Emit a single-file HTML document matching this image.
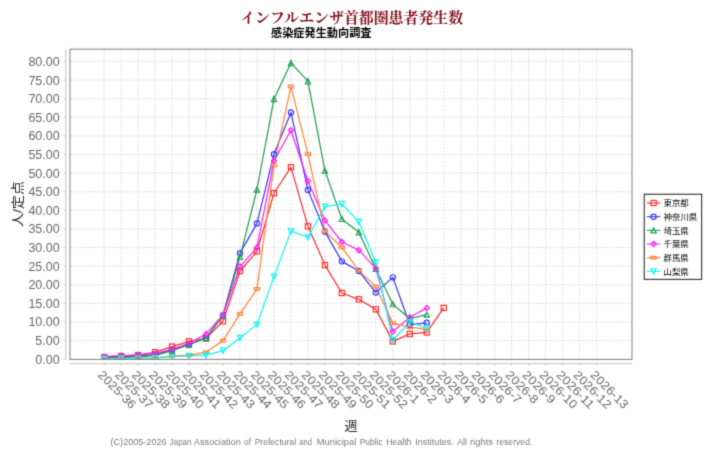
<!DOCTYPE html>
<html><head><meta charset="utf-8"><title>chart</title>
<style>html,body{margin:0;padding:0;background:#fff}</style></head>
<body>
<svg width="709" height="450" viewBox="0 0 709 450" style="display:block;font-family:'Liberation Sans',sans-serif">
<rect width="709" height="450" fill="#fff"/>
<defs><filter id="b" x="0" y="0" width="709" height="450" filterUnits="userSpaceOnUse" color-interpolation-filters="sRGB"><feConvolveMatrix order="3" kernelMatrix="0.0225 0.1050 0.0225 0.1050 0.4900 0.1050 0.0225 0.1050 0.0225" divisor="1" edgeMode="duplicate" preserveAlpha="false"/></filter></defs><g filter="url(#b)">
<path d="M104.15 49.2V359.4M121.13 49.2V359.4M138.11 49.2V359.4M155.09 49.2V359.4M172.07 49.2V359.4M189.05 49.2V359.4M206.03 49.2V359.4M223.01 49.2V359.4M239.99 49.2V359.4M256.97 49.2V359.4M273.95 49.2V359.4M290.93 49.2V359.4M307.91 49.2V359.4M324.89 49.2V359.4M341.87 49.2V359.4M358.85 49.2V359.4M375.83 49.2V359.4M392.81 49.2V359.4M409.79 49.2V359.4M426.77 49.2V359.4M443.75 49.2V359.4M460.73 49.2V359.4M477.71 49.2V359.4M494.69 49.2V359.4M511.67 49.2V359.4M528.65 49.2V359.4M545.63 49.2V359.4M562.61 49.2V359.4M579.59 49.2V359.4M596.57 49.2V359.4M70.0 359.25H632.0M70.0 340.64H632.0M70.0 322.02H632.0M70.0 303.41H632.0M70.0 284.80H632.0M70.0 266.19H632.0M70.0 247.57H632.0M70.0 228.96H632.0M70.0 210.35H632.0M70.0 191.74H632.0M70.0 173.12H632.0M70.0 154.51H632.0M70.0 135.90H632.0M70.0 117.29H632.0M70.0 98.68H632.0M70.0 80.06H632.0M70.0 61.45H632.0" fill="none" stroke="#c6c6c6" stroke-width="0.62" stroke-dasharray="1.75 1.75"/>
<path d="M65.8 49.2V359.4M70.0 363.6H632.0M63.90 359.25H65.8M63.90 340.64H65.8M63.90 322.02H65.8M63.90 303.41H65.8M63.90 284.80H65.8M63.90 266.19H65.8M63.90 247.57H65.8M63.90 228.96H65.8M63.90 210.35H65.8M63.90 191.74H65.8M63.90 173.12H65.8M63.90 154.51H65.8M63.90 135.90H65.8M63.90 117.29H65.8M63.90 98.68H65.8M63.90 80.06H65.8M63.90 61.45H65.8M104.15 363.6V365.50M121.13 363.6V365.50M138.11 363.6V365.50M155.09 363.6V365.50M172.07 363.6V365.50M189.05 363.6V365.50M206.03 363.6V365.50M223.01 363.6V365.50M239.99 363.6V365.50M256.97 363.6V365.50M273.95 363.6V365.50M290.93 363.6V365.50M307.91 363.6V365.50M324.89 363.6V365.50M341.87 363.6V365.50M358.85 363.6V365.50M375.83 363.6V365.50M392.81 363.6V365.50M409.79 363.6V365.50M426.77 363.6V365.50M443.75 363.6V365.50M460.73 363.6V365.50M477.71 363.6V365.50M494.69 363.6V365.50M511.67 363.6V365.50M528.65 363.6V365.50M545.63 363.6V365.50M562.61 363.6V365.50M579.59 363.6V365.50M596.57 363.6V365.50" fill="none" stroke="#bdbdbd" stroke-width="0.9"/>
<clipPath id="c"><rect x="70.0" y="49.2" width="562.00" height="310.50"/></clipPath><g clip-path="url(#c)">
<polyline points="104.15,357.24 121.13,356.16 138.11,355.16 155.09,352.18 172.07,346.59 189.05,341.38 206.03,338.40 223.01,321.28 239.99,271.03 256.97,251.30 273.95,193.23 290.93,167.17 307.91,226.36 324.89,265.07 341.87,292.99 358.85,299.32 375.83,309.37 392.81,341.38 409.79,333.94 426.77,332.45 443.75,307.88" fill="none" stroke="#ff3030" stroke-width="1.25" stroke-linejoin="round"/>
<polyline points="104.15,357.57 121.13,356.83 138.11,356.09 155.09,354.41 172.07,349.94 189.05,344.36 206.03,338.03 223.01,315.14 239.99,253.16 256.97,223.38 273.95,154.14 290.93,112.45 307.91,189.88 324.89,231.57 341.87,261.35 358.85,271.03 375.83,292.62 392.81,277.36 409.79,324.63 426.77,322.77" fill="none" stroke="#3a3aff" stroke-width="1.25" stroke-linejoin="round"/>
<polyline points="104.15,358.13 121.13,357.39 138.11,356.64 155.09,355.53 172.07,350.69 189.05,344.73 206.03,338.03 223.01,315.70 239.99,256.88 256.97,189.50 273.95,99.05 290.93,62.94 307.91,81.18 324.89,170.52 341.87,218.91 358.85,232.31 375.83,268.79 392.81,304.16 409.79,318.67 426.77,314.58" fill="none" stroke="#23a050" stroke-width="1.25" stroke-linejoin="round"/>
<polyline points="104.15,356.46 121.13,355.53 138.11,354.97 155.09,353.67 172.07,349.20 189.05,343.24 206.03,333.94 223.01,314.95 239.99,266.56 256.97,247.57 273.95,160.84 290.93,130.32 307.91,180.94 324.89,220.40 341.87,241.99 358.85,250.18 375.83,268.42 392.81,331.52 409.79,317.19 426.77,307.88" fill="none" stroke="#ff21ff" stroke-width="1.25" stroke-linejoin="round"/>
<polyline points="104.15,358.51 121.13,358.51 138.11,358.13 155.09,357.76 172.07,355.90 189.05,355.16 206.03,352.18 223.01,340.64 239.99,313.84 256.97,288.89 273.95,165.31 290.93,86.39 307.91,154.14 324.89,231.20 341.87,247.57 358.85,270.65 375.83,286.66 392.81,323.14 409.79,327.24 426.77,329.47" fill="none" stroke="#ff843d" stroke-width="1.25" stroke-linejoin="round"/>
<polyline points="104.15,358.88 121.13,358.51 138.11,358.51 155.09,358.13 172.07,356.64 189.05,355.90 206.03,355.16 223.01,350.69 239.99,338.03 256.97,324.63 273.95,276.61 290.93,231.20 307.91,237.52 324.89,206.63 341.87,204.02 358.85,221.89 375.83,262.47 392.81,340.27 409.79,321.84 426.77,328.54" fill="none" stroke="#14f4f4" stroke-width="1.25" stroke-linejoin="round"/>
<rect x="101.55" y="354.64" width="5.20" height="5.20" fill="none" stroke="#ff3030" stroke-width="1.2"/>
<rect x="118.53" y="353.56" width="5.20" height="5.20" fill="none" stroke="#ff3030" stroke-width="1.2"/>
<rect x="135.51" y="352.56" width="5.20" height="5.20" fill="none" stroke="#ff3030" stroke-width="1.2"/>
<rect x="152.49" y="349.58" width="5.20" height="5.20" fill="none" stroke="#ff3030" stroke-width="1.2"/>
<rect x="169.47" y="343.99" width="5.20" height="5.20" fill="none" stroke="#ff3030" stroke-width="1.2"/>
<rect x="186.45" y="338.78" width="5.20" height="5.20" fill="none" stroke="#ff3030" stroke-width="1.2"/>
<rect x="203.43" y="335.80" width="5.20" height="5.20" fill="none" stroke="#ff3030" stroke-width="1.2"/>
<rect x="220.41" y="318.68" width="5.20" height="5.20" fill="none" stroke="#ff3030" stroke-width="1.2"/>
<rect x="237.39" y="268.43" width="5.20" height="5.20" fill="none" stroke="#ff3030" stroke-width="1.2"/>
<rect x="254.37" y="248.70" width="5.20" height="5.20" fill="none" stroke="#ff3030" stroke-width="1.2"/>
<rect x="271.35" y="190.63" width="5.20" height="5.20" fill="none" stroke="#ff3030" stroke-width="1.2"/>
<rect x="288.33" y="164.57" width="5.20" height="5.20" fill="none" stroke="#ff3030" stroke-width="1.2"/>
<rect x="305.31" y="223.76" width="5.20" height="5.20" fill="none" stroke="#ff3030" stroke-width="1.2"/>
<rect x="322.29" y="262.47" width="5.20" height="5.20" fill="none" stroke="#ff3030" stroke-width="1.2"/>
<rect x="339.27" y="290.39" width="5.20" height="5.20" fill="none" stroke="#ff3030" stroke-width="1.2"/>
<rect x="356.25" y="296.72" width="5.20" height="5.20" fill="none" stroke="#ff3030" stroke-width="1.2"/>
<rect x="373.23" y="306.77" width="5.20" height="5.20" fill="none" stroke="#ff3030" stroke-width="1.2"/>
<rect x="390.21" y="338.78" width="5.20" height="5.20" fill="none" stroke="#ff3030" stroke-width="1.2"/>
<rect x="407.19" y="331.34" width="5.20" height="5.20" fill="none" stroke="#ff3030" stroke-width="1.2"/>
<rect x="424.17" y="329.85" width="5.20" height="5.20" fill="none" stroke="#ff3030" stroke-width="1.2"/>
<rect x="441.15" y="305.28" width="5.20" height="5.20" fill="none" stroke="#ff3030" stroke-width="1.2"/>
<circle cx="104.15" cy="357.57" r="2.60" fill="none" stroke="#3a3aff" stroke-width="1.2"/>
<circle cx="121.13" cy="356.83" r="2.60" fill="none" stroke="#3a3aff" stroke-width="1.2"/>
<circle cx="138.11" cy="356.09" r="2.60" fill="none" stroke="#3a3aff" stroke-width="1.2"/>
<circle cx="155.09" cy="354.41" r="2.60" fill="none" stroke="#3a3aff" stroke-width="1.2"/>
<circle cx="172.07" cy="349.94" r="2.60" fill="none" stroke="#3a3aff" stroke-width="1.2"/>
<circle cx="189.05" cy="344.36" r="2.60" fill="none" stroke="#3a3aff" stroke-width="1.2"/>
<circle cx="206.03" cy="338.03" r="2.60" fill="none" stroke="#3a3aff" stroke-width="1.2"/>
<circle cx="223.01" cy="315.14" r="2.60" fill="none" stroke="#3a3aff" stroke-width="1.2"/>
<circle cx="239.99" cy="253.16" r="2.60" fill="none" stroke="#3a3aff" stroke-width="1.2"/>
<circle cx="256.97" cy="223.38" r="2.60" fill="none" stroke="#3a3aff" stroke-width="1.2"/>
<circle cx="273.95" cy="154.14" r="2.60" fill="none" stroke="#3a3aff" stroke-width="1.2"/>
<circle cx="290.93" cy="112.45" r="2.60" fill="none" stroke="#3a3aff" stroke-width="1.2"/>
<circle cx="307.91" cy="189.88" r="2.60" fill="none" stroke="#3a3aff" stroke-width="1.2"/>
<circle cx="324.89" cy="231.57" r="2.60" fill="none" stroke="#3a3aff" stroke-width="1.2"/>
<circle cx="341.87" cy="261.35" r="2.60" fill="none" stroke="#3a3aff" stroke-width="1.2"/>
<circle cx="358.85" cy="271.03" r="2.60" fill="none" stroke="#3a3aff" stroke-width="1.2"/>
<circle cx="375.83" cy="292.62" r="2.60" fill="none" stroke="#3a3aff" stroke-width="1.2"/>
<circle cx="392.81" cy="277.36" r="2.60" fill="none" stroke="#3a3aff" stroke-width="1.2"/>
<circle cx="409.79" cy="324.63" r="2.60" fill="none" stroke="#3a3aff" stroke-width="1.2"/>
<circle cx="426.77" cy="322.77" r="2.60" fill="none" stroke="#3a3aff" stroke-width="1.2"/>
<path d="M104.15 355.53L106.75 360.73L101.55 360.73Z" fill="none" stroke="#23a050" stroke-width="1.2"/>
<path d="M121.13 354.79L123.73 359.99L118.53 359.99Z" fill="none" stroke="#23a050" stroke-width="1.2"/>
<path d="M138.11 354.04L140.71 359.24L135.51 359.24Z" fill="none" stroke="#23a050" stroke-width="1.2"/>
<path d="M155.09 352.93L157.69 358.13L152.49 358.13Z" fill="none" stroke="#23a050" stroke-width="1.2"/>
<path d="M172.07 348.09L174.67 353.29L169.47 353.29Z" fill="none" stroke="#23a050" stroke-width="1.2"/>
<path d="M189.05 342.13L191.65 347.33L186.45 347.33Z" fill="none" stroke="#23a050" stroke-width="1.2"/>
<path d="M206.03 335.43L208.63 340.63L203.43 340.63Z" fill="none" stroke="#23a050" stroke-width="1.2"/>
<path d="M223.01 313.10L225.61 318.30L220.41 318.30Z" fill="none" stroke="#23a050" stroke-width="1.2"/>
<path d="M239.99 254.28L242.59 259.48L237.39 259.48Z" fill="none" stroke="#23a050" stroke-width="1.2"/>
<path d="M256.97 186.90L259.57 192.10L254.37 192.10Z" fill="none" stroke="#23a050" stroke-width="1.2"/>
<path d="M273.95 96.45L276.55 101.65L271.35 101.65Z" fill="none" stroke="#23a050" stroke-width="1.2"/>
<path d="M290.93 60.34L293.53 65.54L288.33 65.54Z" fill="none" stroke="#23a050" stroke-width="1.2"/>
<path d="M307.91 78.58L310.51 83.78L305.31 83.78Z" fill="none" stroke="#23a050" stroke-width="1.2"/>
<path d="M324.89 167.92L327.49 173.12L322.29 173.12Z" fill="none" stroke="#23a050" stroke-width="1.2"/>
<path d="M341.87 216.31L344.47 221.51L339.27 221.51Z" fill="none" stroke="#23a050" stroke-width="1.2"/>
<path d="M358.85 229.71L361.45 234.91L356.25 234.91Z" fill="none" stroke="#23a050" stroke-width="1.2"/>
<path d="M375.83 266.19L378.43 271.39L373.23 271.39Z" fill="none" stroke="#23a050" stroke-width="1.2"/>
<path d="M392.81 301.56L395.41 306.76L390.21 306.76Z" fill="none" stroke="#23a050" stroke-width="1.2"/>
<path d="M409.79 316.07L412.39 321.27L407.19 321.27Z" fill="none" stroke="#23a050" stroke-width="1.2"/>
<path d="M426.77 311.98L429.37 317.18L424.17 317.18Z" fill="none" stroke="#23a050" stroke-width="1.2"/>
<path d="M104.15 353.86L106.75 356.46L104.15 359.06L101.55 356.46Z" fill="none" stroke="#ff21ff" stroke-width="1.2"/>
<path d="M121.13 352.93L123.73 355.53L121.13 358.13L118.53 355.53Z" fill="none" stroke="#ff21ff" stroke-width="1.2"/>
<path d="M138.11 352.37L140.71 354.97L138.11 357.57L135.51 354.97Z" fill="none" stroke="#ff21ff" stroke-width="1.2"/>
<path d="M155.09 351.07L157.69 353.67L155.09 356.27L152.49 353.67Z" fill="none" stroke="#ff21ff" stroke-width="1.2"/>
<path d="M172.07 346.60L174.67 349.20L172.07 351.80L169.47 349.20Z" fill="none" stroke="#ff21ff" stroke-width="1.2"/>
<path d="M189.05 340.64L191.65 343.24L189.05 345.84L186.45 343.24Z" fill="none" stroke="#ff21ff" stroke-width="1.2"/>
<path d="M206.03 331.34L208.63 333.94L206.03 336.54L203.43 333.94Z" fill="none" stroke="#ff21ff" stroke-width="1.2"/>
<path d="M223.01 312.35L225.61 314.95L223.01 317.55L220.41 314.95Z" fill="none" stroke="#ff21ff" stroke-width="1.2"/>
<path d="M239.99 263.96L242.59 266.56L239.99 269.16L237.39 266.56Z" fill="none" stroke="#ff21ff" stroke-width="1.2"/>
<path d="M256.97 244.97L259.57 247.57L256.97 250.17L254.37 247.57Z" fill="none" stroke="#ff21ff" stroke-width="1.2"/>
<path d="M273.95 158.24L276.55 160.84L273.95 163.44L271.35 160.84Z" fill="none" stroke="#ff21ff" stroke-width="1.2"/>
<path d="M290.93 127.72L293.53 130.32L290.93 132.92L288.33 130.32Z" fill="none" stroke="#ff21ff" stroke-width="1.2"/>
<path d="M307.91 178.34L310.51 180.94L307.91 183.54L305.31 180.94Z" fill="none" stroke="#ff21ff" stroke-width="1.2"/>
<path d="M324.89 217.80L327.49 220.40L324.89 223.00L322.29 220.40Z" fill="none" stroke="#ff21ff" stroke-width="1.2"/>
<path d="M341.87 239.39L344.47 241.99L341.87 244.59L339.27 241.99Z" fill="none" stroke="#ff21ff" stroke-width="1.2"/>
<path d="M358.85 247.58L361.45 250.18L358.85 252.78L356.25 250.18Z" fill="none" stroke="#ff21ff" stroke-width="1.2"/>
<path d="M375.83 265.82L378.43 268.42L375.83 271.02L373.23 268.42Z" fill="none" stroke="#ff21ff" stroke-width="1.2"/>
<path d="M392.81 328.92L395.41 331.52L392.81 334.12L390.21 331.52Z" fill="none" stroke="#ff21ff" stroke-width="1.2"/>
<path d="M409.79 314.59L412.39 317.19L409.79 319.79L407.19 317.19Z" fill="none" stroke="#ff21ff" stroke-width="1.2"/>
<path d="M426.77 305.28L429.37 307.88L426.77 310.48L424.17 307.88Z" fill="none" stroke="#ff21ff" stroke-width="1.2"/>
<rect x="101.55" y="357.21" width="5.20" height="2.60" fill="none" stroke="#ff843d" stroke-width="1.2"/>
<rect x="118.53" y="357.21" width="5.20" height="2.60" fill="none" stroke="#ff843d" stroke-width="1.2"/>
<rect x="135.51" y="356.83" width="5.20" height="2.60" fill="none" stroke="#ff843d" stroke-width="1.2"/>
<rect x="152.49" y="356.46" width="5.20" height="2.60" fill="none" stroke="#ff843d" stroke-width="1.2"/>
<rect x="169.47" y="354.60" width="5.20" height="2.60" fill="none" stroke="#ff843d" stroke-width="1.2"/>
<rect x="186.45" y="353.86" width="5.20" height="2.60" fill="none" stroke="#ff843d" stroke-width="1.2"/>
<rect x="203.43" y="350.88" width="5.20" height="2.60" fill="none" stroke="#ff843d" stroke-width="1.2"/>
<rect x="220.41" y="339.34" width="5.20" height="2.60" fill="none" stroke="#ff843d" stroke-width="1.2"/>
<rect x="237.39" y="312.54" width="5.20" height="2.60" fill="none" stroke="#ff843d" stroke-width="1.2"/>
<rect x="254.37" y="287.59" width="5.20" height="2.60" fill="none" stroke="#ff843d" stroke-width="1.2"/>
<rect x="271.35" y="164.01" width="5.20" height="2.60" fill="none" stroke="#ff843d" stroke-width="1.2"/>
<rect x="288.33" y="85.09" width="5.20" height="2.60" fill="none" stroke="#ff843d" stroke-width="1.2"/>
<rect x="305.31" y="152.84" width="5.20" height="2.60" fill="none" stroke="#ff843d" stroke-width="1.2"/>
<rect x="322.29" y="229.90" width="5.20" height="2.60" fill="none" stroke="#ff843d" stroke-width="1.2"/>
<rect x="339.27" y="246.27" width="5.20" height="2.60" fill="none" stroke="#ff843d" stroke-width="1.2"/>
<rect x="356.25" y="269.35" width="5.20" height="2.60" fill="none" stroke="#ff843d" stroke-width="1.2"/>
<rect x="373.23" y="285.36" width="5.20" height="2.60" fill="none" stroke="#ff843d" stroke-width="1.2"/>
<rect x="390.21" y="321.84" width="5.20" height="2.60" fill="none" stroke="#ff843d" stroke-width="1.2"/>
<rect x="407.19" y="325.94" width="5.20" height="2.60" fill="none" stroke="#ff843d" stroke-width="1.2"/>
<rect x="424.17" y="328.17" width="5.20" height="2.60" fill="none" stroke="#ff843d" stroke-width="1.2"/>
<path d="M101.55 356.28L106.75 356.28L104.15 361.48Z" fill="none" stroke="#14f4f4" stroke-width="1.2"/>
<path d="M118.53 355.91L123.73 355.91L121.13 361.11Z" fill="none" stroke="#14f4f4" stroke-width="1.2"/>
<path d="M135.51 355.91L140.71 355.91L138.11 361.11Z" fill="none" stroke="#14f4f4" stroke-width="1.2"/>
<path d="M152.49 355.53L157.69 355.53L155.09 360.73Z" fill="none" stroke="#14f4f4" stroke-width="1.2"/>
<path d="M169.47 354.04L174.67 354.04L172.07 359.24Z" fill="none" stroke="#14f4f4" stroke-width="1.2"/>
<path d="M186.45 353.30L191.65 353.30L189.05 358.50Z" fill="none" stroke="#14f4f4" stroke-width="1.2"/>
<path d="M203.43 352.56L208.63 352.56L206.03 357.76Z" fill="none" stroke="#14f4f4" stroke-width="1.2"/>
<path d="M220.41 348.09L225.61 348.09L223.01 353.29Z" fill="none" stroke="#14f4f4" stroke-width="1.2"/>
<path d="M237.39 335.43L242.59 335.43L239.99 340.63Z" fill="none" stroke="#14f4f4" stroke-width="1.2"/>
<path d="M254.37 322.03L259.57 322.03L256.97 327.23Z" fill="none" stroke="#14f4f4" stroke-width="1.2"/>
<path d="M271.35 274.01L276.55 274.01L273.95 279.21Z" fill="none" stroke="#14f4f4" stroke-width="1.2"/>
<path d="M288.33 228.60L293.53 228.60L290.93 233.80Z" fill="none" stroke="#14f4f4" stroke-width="1.2"/>
<path d="M305.31 234.92L310.51 234.92L307.91 240.12Z" fill="none" stroke="#14f4f4" stroke-width="1.2"/>
<path d="M322.29 204.03L327.49 204.03L324.89 209.23Z" fill="none" stroke="#14f4f4" stroke-width="1.2"/>
<path d="M339.27 201.42L344.47 201.42L341.87 206.62Z" fill="none" stroke="#14f4f4" stroke-width="1.2"/>
<path d="M356.25 219.29L361.45 219.29L358.85 224.49Z" fill="none" stroke="#14f4f4" stroke-width="1.2"/>
<path d="M373.23 259.87L378.43 259.87L375.83 265.07Z" fill="none" stroke="#14f4f4" stroke-width="1.2"/>
<path d="M390.21 337.67L395.41 337.67L392.81 342.87Z" fill="none" stroke="#14f4f4" stroke-width="1.2"/>
<path d="M407.19 319.24L412.39 319.24L409.79 324.44Z" fill="none" stroke="#14f4f4" stroke-width="1.2"/>
<path d="M424.17 325.94L429.37 325.94L426.77 331.14Z" fill="none" stroke="#14f4f4" stroke-width="1.2"/>
</g>
<rect x="70.0" y="49.2" width="562.00" height="310.20" fill="none" stroke="#808080" stroke-width="1"/>
<text x="59.7" y="363.70" font-size="11.9" fill="#686868" text-anchor="end" textLength="24.35" lengthAdjust="spacingAndGlyphs">0.00</text>
<text x="59.7" y="345.09" font-size="11.9" fill="#686868" text-anchor="end" textLength="24.35" lengthAdjust="spacingAndGlyphs">5.00</text>
<text x="59.7" y="326.47" font-size="11.9" fill="#686868" text-anchor="end" textLength="31.3" lengthAdjust="spacingAndGlyphs">10.00</text>
<text x="59.7" y="307.86" font-size="11.9" fill="#686868" text-anchor="end" textLength="31.3" lengthAdjust="spacingAndGlyphs">15.00</text>
<text x="59.7" y="289.25" font-size="11.9" fill="#686868" text-anchor="end" textLength="31.3" lengthAdjust="spacingAndGlyphs">20.00</text>
<text x="59.7" y="270.64" font-size="11.9" fill="#686868" text-anchor="end" textLength="31.3" lengthAdjust="spacingAndGlyphs">25.00</text>
<text x="59.7" y="252.02" font-size="11.9" fill="#686868" text-anchor="end" textLength="31.3" lengthAdjust="spacingAndGlyphs">30.00</text>
<text x="59.7" y="233.41" font-size="11.9" fill="#686868" text-anchor="end" textLength="31.3" lengthAdjust="spacingAndGlyphs">35.00</text>
<text x="59.7" y="214.80" font-size="11.9" fill="#686868" text-anchor="end" textLength="31.3" lengthAdjust="spacingAndGlyphs">40.00</text>
<text x="59.7" y="196.19" font-size="11.9" fill="#686868" text-anchor="end" textLength="31.3" lengthAdjust="spacingAndGlyphs">45.00</text>
<text x="59.7" y="177.57" font-size="11.9" fill="#686868" text-anchor="end" textLength="31.3" lengthAdjust="spacingAndGlyphs">50.00</text>
<text x="59.7" y="158.96" font-size="11.9" fill="#686868" text-anchor="end" textLength="31.3" lengthAdjust="spacingAndGlyphs">55.00</text>
<text x="59.7" y="140.35" font-size="11.9" fill="#686868" text-anchor="end" textLength="31.3" lengthAdjust="spacingAndGlyphs">60.00</text>
<text x="59.7" y="121.74" font-size="11.9" fill="#686868" text-anchor="end" textLength="31.3" lengthAdjust="spacingAndGlyphs">65.00</text>
<text x="59.7" y="103.13" font-size="11.9" fill="#686868" text-anchor="end" textLength="31.3" lengthAdjust="spacingAndGlyphs">70.00</text>
<text x="59.7" y="84.51" font-size="11.9" fill="#686868" text-anchor="end" textLength="31.3" lengthAdjust="spacingAndGlyphs">75.00</text>
<text x="59.7" y="65.90" font-size="11.9" fill="#686868" text-anchor="end" textLength="31.3" lengthAdjust="spacingAndGlyphs">80.00</text>
<text transform="translate(103.85 369.1) rotate(45)" x="0" y="9.2" font-size="11.9" fill="#686868" textLength="47.8" lengthAdjust="spacingAndGlyphs">2025-36</text>
<text transform="translate(120.83 369.1) rotate(45)" x="0" y="9.2" font-size="11.9" fill="#686868" textLength="47.8" lengthAdjust="spacingAndGlyphs">2025-37</text>
<text transform="translate(137.81 369.1) rotate(45)" x="0" y="9.2" font-size="11.9" fill="#686868" textLength="47.8" lengthAdjust="spacingAndGlyphs">2025-38</text>
<text transform="translate(154.79 369.1) rotate(45)" x="0" y="9.2" font-size="11.9" fill="#686868" textLength="47.8" lengthAdjust="spacingAndGlyphs">2025-39</text>
<text transform="translate(171.77 369.1) rotate(45)" x="0" y="9.2" font-size="11.9" fill="#686868" textLength="47.8" lengthAdjust="spacingAndGlyphs">2025-40</text>
<text transform="translate(188.75 369.1) rotate(45)" x="0" y="9.2" font-size="11.9" fill="#686868" textLength="47.8" lengthAdjust="spacingAndGlyphs">2025-41</text>
<text transform="translate(205.73 369.1) rotate(45)" x="0" y="9.2" font-size="11.9" fill="#686868" textLength="47.8" lengthAdjust="spacingAndGlyphs">2025-42</text>
<text transform="translate(222.71 369.1) rotate(45)" x="0" y="9.2" font-size="11.9" fill="#686868" textLength="47.8" lengthAdjust="spacingAndGlyphs">2025-43</text>
<text transform="translate(239.69 369.1) rotate(45)" x="0" y="9.2" font-size="11.9" fill="#686868" textLength="47.8" lengthAdjust="spacingAndGlyphs">2025-44</text>
<text transform="translate(256.67 369.1) rotate(45)" x="0" y="9.2" font-size="11.9" fill="#686868" textLength="47.8" lengthAdjust="spacingAndGlyphs">2025-45</text>
<text transform="translate(273.65 369.1) rotate(45)" x="0" y="9.2" font-size="11.9" fill="#686868" textLength="47.8" lengthAdjust="spacingAndGlyphs">2025-46</text>
<text transform="translate(290.63 369.1) rotate(45)" x="0" y="9.2" font-size="11.9" fill="#686868" textLength="47.8" lengthAdjust="spacingAndGlyphs">2025-47</text>
<text transform="translate(307.61 369.1) rotate(45)" x="0" y="9.2" font-size="11.9" fill="#686868" textLength="47.8" lengthAdjust="spacingAndGlyphs">2025-48</text>
<text transform="translate(324.59 369.1) rotate(45)" x="0" y="9.2" font-size="11.9" fill="#686868" textLength="47.8" lengthAdjust="spacingAndGlyphs">2025-49</text>
<text transform="translate(341.57 369.1) rotate(45)" x="0" y="9.2" font-size="11.9" fill="#686868" textLength="47.8" lengthAdjust="spacingAndGlyphs">2025-50</text>
<text transform="translate(358.55 369.1) rotate(45)" x="0" y="9.2" font-size="11.9" fill="#686868" textLength="47.8" lengthAdjust="spacingAndGlyphs">2025-51</text>
<text transform="translate(375.53 369.1) rotate(45)" x="0" y="9.2" font-size="11.9" fill="#686868" textLength="47.8" lengthAdjust="spacingAndGlyphs">2025-52</text>
<text transform="translate(392.51 369.1) rotate(45)" x="0" y="9.2" font-size="11.9" fill="#686868" textLength="40.839999999999996" lengthAdjust="spacingAndGlyphs">2026-1</text>
<text transform="translate(409.49 369.1) rotate(45)" x="0" y="9.2" font-size="11.9" fill="#686868" textLength="40.839999999999996" lengthAdjust="spacingAndGlyphs">2026-2</text>
<text transform="translate(426.47 369.1) rotate(45)" x="0" y="9.2" font-size="11.9" fill="#686868" textLength="40.839999999999996" lengthAdjust="spacingAndGlyphs">2026-3</text>
<text transform="translate(443.45 369.1) rotate(45)" x="0" y="9.2" font-size="11.9" fill="#686868" textLength="40.839999999999996" lengthAdjust="spacingAndGlyphs">2026-4</text>
<text transform="translate(460.43 369.1) rotate(45)" x="0" y="9.2" font-size="11.9" fill="#686868" textLength="40.839999999999996" lengthAdjust="spacingAndGlyphs">2026-5</text>
<text transform="translate(477.41 369.1) rotate(45)" x="0" y="9.2" font-size="11.9" fill="#686868" textLength="40.839999999999996" lengthAdjust="spacingAndGlyphs">2026-6</text>
<text transform="translate(494.39 369.1) rotate(45)" x="0" y="9.2" font-size="11.9" fill="#686868" textLength="40.839999999999996" lengthAdjust="spacingAndGlyphs">2026-7</text>
<text transform="translate(511.37 369.1) rotate(45)" x="0" y="9.2" font-size="11.9" fill="#686868" textLength="40.839999999999996" lengthAdjust="spacingAndGlyphs">2026-8</text>
<text transform="translate(528.35 369.1) rotate(45)" x="0" y="9.2" font-size="11.9" fill="#686868" textLength="40.839999999999996" lengthAdjust="spacingAndGlyphs">2026-9</text>
<text transform="translate(545.33 369.1) rotate(45)" x="0" y="9.2" font-size="11.9" fill="#686868" textLength="47.8" lengthAdjust="spacingAndGlyphs">2026-10</text>
<text transform="translate(562.31 369.1) rotate(45)" x="0" y="9.2" font-size="11.9" fill="#686868" textLength="47.8" lengthAdjust="spacingAndGlyphs">2026-11</text>
<text transform="translate(579.29 369.1) rotate(45)" x="0" y="9.2" font-size="11.9" fill="#686868" textLength="47.8" lengthAdjust="spacingAndGlyphs">2026-12</text>
<text transform="translate(596.27 369.1) rotate(45)" x="0" y="9.2" font-size="11.9" fill="#686868" textLength="47.8" lengthAdjust="spacingAndGlyphs">2026-13</text>
<text x="240.15" y="23.1" font-size="14.8" font-weight="bold" fill="#800c14" textLength="223" lengthAdjust="spacingAndGlyphs" style="font-family:'Liberation Serif','Noto Serif CJK SC','Noto Sans CJK JP',serif">インフルエンザ首都圏患者発生数</text>
<text x="271.0" y="37.2" font-size="11.2" font-weight="bold" fill="#000" textLength="100.5" lengthAdjust="spacingAndGlyphs" style="font-family:'Liberation Sans','Noto Sans CJK JP',sans-serif">感染症発生動向調査</text>
<text transform="translate(21.7 227.08) rotate(-90)" x="0" y="0" font-size="13" fill="#2a2a2a" textLength="46" lengthAdjust="spacingAndGlyphs" style="font-family:'Liberation Sans','Noto Sans CJK JP',sans-serif">人/定点</text>
<text x="344.45" y="429.5" font-size="13" fill="#2a2a2a" style="font-family:'Liberation Sans','Noto Sans CJK JP',sans-serif">週</text>
<g font-size="8.9" fill="#7a7a7a"><text x="110.55" y="445.35" textLength="56.00" lengthAdjust="spacingAndGlyphs">(C)2005-2026</text><text x="169.85" y="445.35" textLength="21.50" lengthAdjust="spacingAndGlyphs">Japan</text><text x="193.85" y="445.35" textLength="47.00" lengthAdjust="spacingAndGlyphs">Association</text><text x="244.05" y="445.35" textLength="6.90" lengthAdjust="spacingAndGlyphs">of</text><text x="254.65" y="445.35" textLength="41.40" lengthAdjust="spacingAndGlyphs">Prefectural</text><text x="299.35" y="445.35" textLength="12.50" lengthAdjust="spacingAndGlyphs">and</text><text x="316.65" y="445.35" textLength="39.70" lengthAdjust="spacingAndGlyphs">Municipal</text><text x="359.65" y="445.35" textLength="23.10" lengthAdjust="spacingAndGlyphs">Public</text><text x="386.35" y="445.35" textLength="25.10" lengthAdjust="spacingAndGlyphs">Health</text><text x="415.15" y="445.35" textLength="38.50" lengthAdjust="spacingAndGlyphs">Institutes.</text><text x="457.25" y="445.35" textLength="9.60" lengthAdjust="spacingAndGlyphs">All</text><text x="469.95" y="445.35" textLength="23.10" lengthAdjust="spacingAndGlyphs">rights</text><text x="496.35" y="445.35" textLength="36.00" lengthAdjust="spacingAndGlyphs">reserved.</text></g>
<rect x="644.2" y="194.2" width="57.50" height="85.10" fill="#fff" stroke="#000" stroke-width="0.9"/>
<path d="M646.9 203.00H660.3" stroke="#ff3030" stroke-width="1.1"/>
<rect x="651.00" y="200.40" width="5.20" height="5.20" fill="none" stroke="#ff3030" stroke-width="1.2"/>
<text x="663.5" y="206.30" font-size="8.5" fill="#000" textLength="25.3" lengthAdjust="spacingAndGlyphs" style="font-family:'Liberation Sans','Noto Sans CJK JP',sans-serif">東京都</text>
<path d="M646.9 216.68H660.3" stroke="#3a3aff" stroke-width="1.1"/>
<circle cx="653.60" cy="216.68" r="2.60" fill="none" stroke="#3a3aff" stroke-width="1.2"/>
<text x="663.5" y="219.98" font-size="8.5" fill="#000" textLength="33.8" lengthAdjust="spacingAndGlyphs" style="font-family:'Liberation Sans','Noto Sans CJK JP',sans-serif">神奈川県</text>
<path d="M646.9 230.36H660.3" stroke="#23a050" stroke-width="1.1"/>
<path d="M653.60 227.76L656.20 232.96L651.00 232.96Z" fill="none" stroke="#23a050" stroke-width="1.2"/>
<text x="663.5" y="233.66" font-size="8.5" fill="#000" textLength="25.3" lengthAdjust="spacingAndGlyphs" style="font-family:'Liberation Sans','Noto Sans CJK JP',sans-serif">埼玉県</text>
<path d="M646.9 244.04H660.3" stroke="#ff21ff" stroke-width="1.1"/>
<path d="M653.60 241.44L656.20 244.04L653.60 246.64L651.00 244.04Z" fill="none" stroke="#ff21ff" stroke-width="1.2"/>
<text x="663.5" y="247.34" font-size="8.5" fill="#000" textLength="25.3" lengthAdjust="spacingAndGlyphs" style="font-family:'Liberation Sans','Noto Sans CJK JP',sans-serif">千葉県</text>
<path d="M646.9 257.72H660.3" stroke="#ff843d" stroke-width="1.1"/>
<rect x="651.00" y="256.42" width="5.20" height="2.60" fill="none" stroke="#ff843d" stroke-width="1.2"/>
<text x="663.5" y="261.02" font-size="8.5" fill="#000" textLength="25.3" lengthAdjust="spacingAndGlyphs" style="font-family:'Liberation Sans','Noto Sans CJK JP',sans-serif">群馬県</text>
<path d="M646.9 271.40H660.3" stroke="#14f4f4" stroke-width="1.1"/>
<path d="M651.00 268.80L656.20 268.80L653.60 274.00Z" fill="none" stroke="#14f4f4" stroke-width="1.2"/>
<text x="663.5" y="274.70" font-size="8.5" fill="#000" textLength="25.3" lengthAdjust="spacingAndGlyphs" style="font-family:'Liberation Sans','Noto Sans CJK JP',sans-serif">山梨県</text>
</g></svg>
</body></html>
